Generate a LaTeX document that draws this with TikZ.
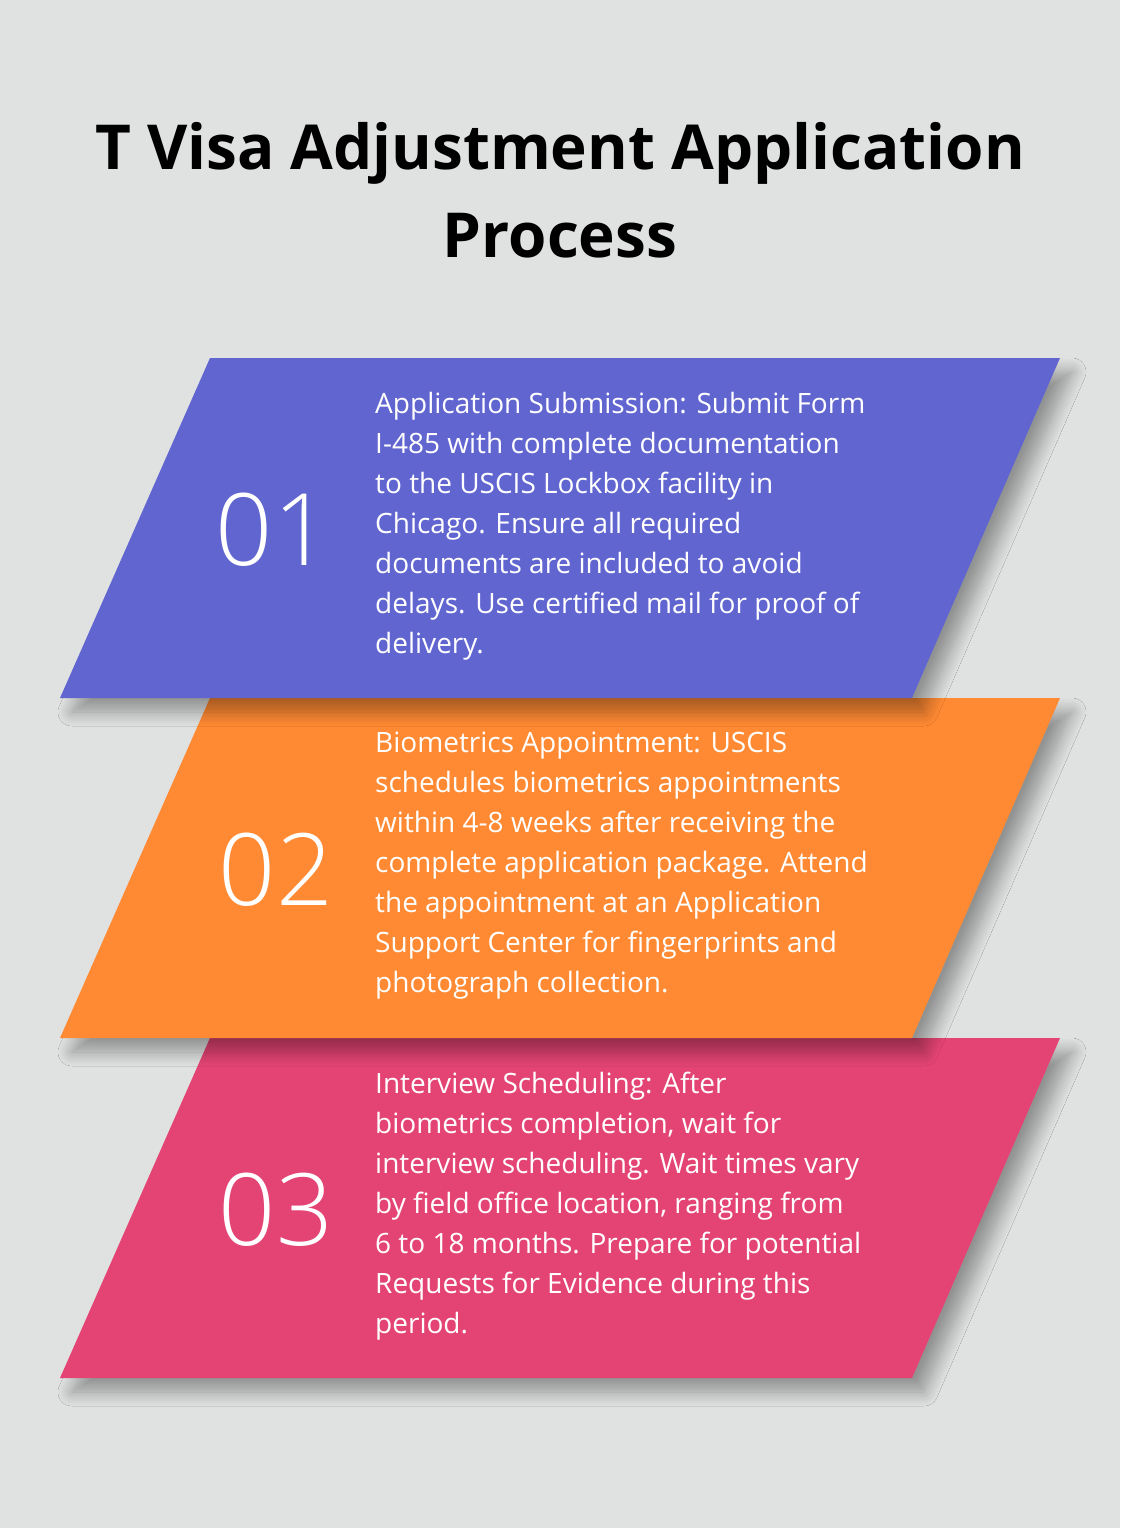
\documentclass[tikz,border=0pt]{standalone}
\usepackage{fontspec}
\setmainfont{Open Sans}
\newfontfamily\numfont{Open Sans Light}
\usetikzlibrary{shadows.blur}
\definecolor{bg}{HTML}{E0E2E1}
\definecolor{cblue}{HTML}{6165CF}
\definecolor{corange}{HTML}{FF8A33}
\definecolor{cpink}{HTML}{E44474}
\tikzset{
  band/.style={blur shadow={shadow xshift=12pt,shadow yshift=-14pt,shadow blur steps=12,shadow blur radius=14pt,shadow opacity=35}},
  body/.style={anchor=north west,align=left,text=white,font=\fontsize{28}{40}\selectfont,inner sep=0pt},
  num/.style={text=white,font=\numfont\fontsize{100}{100}\selectfont},
}
\begin{document}
\begin{tikzpicture}[x=1pt,y=-1pt]
\fill[bg] (0,0) rectangle (1120,1528);
\useasboundingbox (0,0) rectangle (1120,1528);
\node[name=title,align=center,font=\bfseries\fontsize{62}{88}\selectfont] at (560,190) {T Visa Adjustment Application\\Process};
\fill[cpink,band] (210,1038) -- (1060,1038) -- (912,1378) -- (60,1378) -- cycle;
\fill[corange,band] (210,698) -- (1060,698) -- (912,1038) -- (60,1038) -- cycle;
\fill[cblue,band] (210,358) -- (1060,358) -- (912,698) -- (60,698) -- cycle;
\node[num,name=n1] at (273,530) {01};
\node[num,name=n2] at (276,870) {02};
\node[num,name=n3] at (276,1210) {03};
\node[body,name=t1] at (375,392) {Application Submission: Submit Form\\I-485 with complete documentation\\to the USCIS Lockbox facility in\\Chicago. Ensure all required\\documents are included to avoid\\delays. Use certified mail for proof of\\delivery.};
\node[body,name=t2] at (375,732) {Biometrics Appointment: USCIS\\schedules biometrics appointments\\within 4-8 weeks after receiving the\\complete application package. Attend\\the appointment at an Application\\Support Center for fingerprints and\\photograph collection.};
\node[body,name=t3] at (375,1072) {Interview Scheduling: After\\biometrics completion, wait for\\interview scheduling. Wait times vary\\by field office location, ranging from\\6 to 18 months. Prepare for potential\\Requests for Evidence during this\\period.};
\end{tikzpicture}
\end{document}
